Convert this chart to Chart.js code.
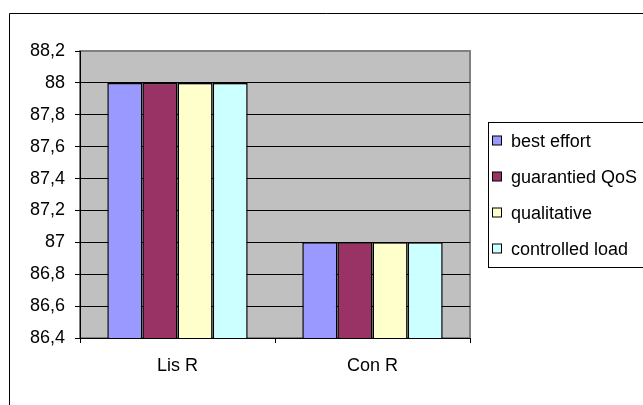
<!DOCTYPE html>
<html>
<head>
<meta charset="utf-8">
<script src="https://cdn.jsdelivr.net/npm/chart.js@4/dist/chart.umd.min.js"></script>
<style>
  html, body { margin: 0; padding: 0; background: #fff; }
  #wrap { position: relative; width: 643px; height: 405px; overflow: hidden; }
  canvas { display: block; }
</style>
</head>
<body>
<div id="wrap"><canvas id="qosChart" width="643" height="405"></canvas></div>
<script>
// data
const categories = ['Lis R', 'Con R']
const seriesNames = ['best effort', 'guarantied QoS', 'qualitative', 'controlled load']
const bestEffort = [88, 87]
const guarantiedQos = [88, 87]
const qualitative = [88, 87]
const controlledLoad = [88, 87]
const yMin = 86.4
const yMax = 88.2
const yStep = 0.2

const colors = ['#9999FF', '#993366', '#FFFFCC', '#CCFFFF']
const values = [bestEffort, guarantiedQos, qualitative, controlledLoad]
const font = { family: 'Arial, "Liberation Sans", sans-serif', size: 18 }

// grey plot background + outer frame
const background = {
    id: 'background',
    beforeDraw(chart) {
        const { ctx, chartArea: a } = chart
        ctx.save()
        ctx.fillStyle = '#C0C0C0'
        ctx.fillRect(a.left, a.top, a.right - a.left, a.bottom - a.top)
        ctx.strokeStyle = '#808080'
        ctx.lineWidth = 2
        ctx.strokeRect(a.left, a.top, a.right - a.left, a.bottom - a.top)
        // chart frame, left and top edges only
        ctx.strokeStyle = '#000'
        ctx.lineWidth = 1
        ctx.beginPath()
        ctx.moveTo(9.5, chart.height)
        ctx.lineTo(9.5, 13.5)
        ctx.lineTo(chart.width, 13.5)
        ctx.stroke()
        ctx.restore()
    }
}

// boxed legend on the right
const boxLegend = {
    id: 'boxLegend',
    afterDraw(chart) {
        const { ctx } = chart
        const x = 488.5, y = 122.5, h = 145
        const row = h / chart.data.datasets.length
        ctx.save()
        ctx.strokeStyle = '#000'
        ctx.lineWidth = 1
        ctx.strokeRect(x, y, 300, h)
        ctx.font = font.size + 'px ' + font.family
        ctx.textBaseline = 'middle'
        chart.data.datasets.forEach((ds, i) => {
            const cy = Math.round(y + row * (i + 0.5))
            ctx.fillStyle = ds.backgroundColor
            ctx.fillRect(492.5, cy - 5, 9, 9)
            ctx.strokeRect(492.5, cy - 5, 9, 9)
            ctx.fillStyle = '#000'
            ctx.fillText(ds.label, 511, cy + 1)
        })
        ctx.restore()
    }
}

const data = {
    labels: categories,
    datasets: seriesNames.map((name, i) => ({
        label: name,
        data: values[i],
        backgroundColor: colors[i],
        borderColor: '#000',
        borderWidth: 1.5,
        borderSkipped: false,
        categoryPercentage: 0.72,
        barPercentage: 1
    }))
}

const config = {
    type: 'bar',
    data: data,
    options: {
        responsive: false,
        animation: false,
        layout: { padding: { top: 51, right: 173, left: 0, bottom: 0 } },
        plugins: {
            legend: { display: false },
            tooltip: { enabled: false }
        },
        scales: {
            x: {
                afterFit: (scale) => { scale.height = 67 },
                border: { display: true, color: '#000', width: 1 },
                grid: {
                    offset: true,
                    drawOnChartArea: false,
                    color: '#000',
                    tickLength: 5
                },
                ticks: { color: '#000', font: font, padding: 12 }
            },
            y: {
                min: yMin,
                max: yMax,
                afterFit: (scale) => { scale.width = 80 },
                border: { display: true, color: '#000', width: 1 },
                grid: {
                    color: (c) => c.index === c.scale.ticks.length - 1 ? 'rgba(0,0,0,0)' : '#000',
                    tickColor: '#000',
                    tickLength: 5
                },
                ticks: {
                    stepSize: yStep,
                    color: '#000',
                    font: font,
                    padding: 10,
                    callback: (v) => String(Number(v.toFixed(1))).replace('.', ',')
                }
            }
        }
    },
    plugins: [background, boxLegend]
}

const qosChart = new Chart(document.getElementById('qosChart'), config)
</script>
</body>
</html>
